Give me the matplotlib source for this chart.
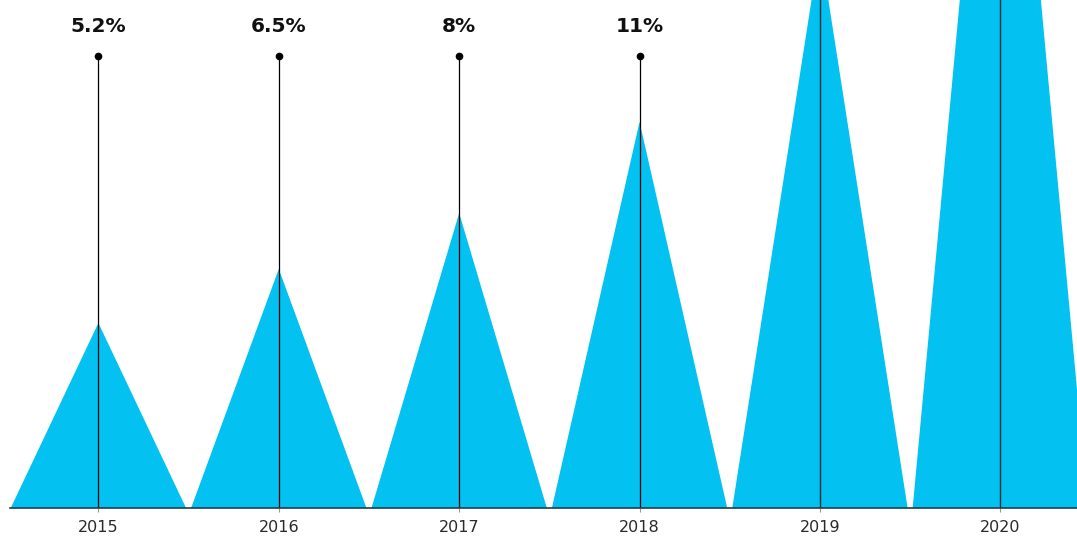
import matplotlib.pyplot as plt
from matplotlib.patches import Polygon

# donnees
years = ["2015", "2016", "2017", "2018", "2019", "2020"]
values = [5.07, 6.55, 8.08, 10.58, 15.4, 25.9]   # hauteur des pics
labels = ["5.2%", "6.5%", "8%", "11%", "", ""]   # 2019 / 2020 hors cadre

cyan = "#03C1F0"
half = 0.486      # demi-largeur des triangles
label_y = 13.2    # niveau des etiquettes
dot_y = 12.38     # niveau des points

fig = plt.figure(figsize=(10.77, 5.37), dpi=100)
ax = fig.add_axes([10 / 1077, 29 / 537, 1067 / 1077, 508 / 537])

for i, v in enumerate(values):
    tri = Polygon([(i - half, 0), (i, v), (i + half, 0)], closed=True,
                  facecolor=cyan, edgecolor="none", zorder=1)
    ax.add_patch(tri)
    if labels[i]:
        ax.plot([i, i], [0, dot_y], color="black", lw=0.9, zorder=3)
        ax.plot(i, dot_y, "o", color="black", ms=4.5, zorder=4)
        ax.text(i, label_y, labels[i], ha="center", va="center",
                fontsize=14.5, fontweight="bold", color="#111111")
    else:
        ax.plot([i, i], [0, 20], color="#0d2a33", lw=1.0, zorder=3)

ax.set_xlim(-0.49, 5.425)
ax.set_ylim(0, 13.92)
ax.set_xticks(range(len(years)))
ax.set_xticklabels(years, fontsize=11.5, color="#2a2a2a")
ax.set_yticks([])
ax.tick_params(axis="x", length=3, width=0.8, color="#999999", pad=6)
for s in ["top", "right", "left"]:
    ax.spines[s].set_visible(False)
ax.spines["bottom"].set_color("#1d3f4a")
ax.spines["bottom"].set_linewidth(1.2)
ax.spines["bottom"].set_zorder(5)

fig.savefig("out.png", dpi=100)
